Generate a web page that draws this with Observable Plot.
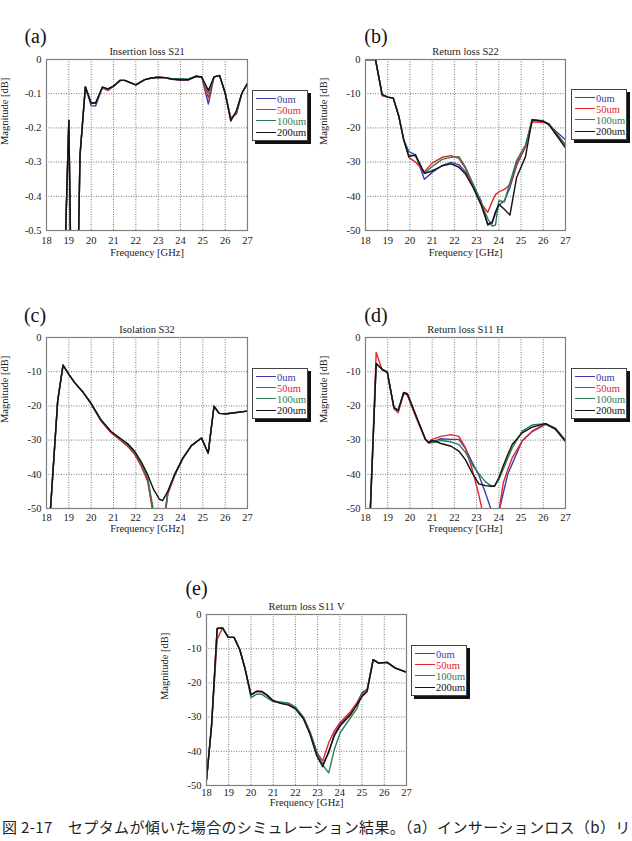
<!DOCTYPE html>
<html>
<head>
<meta charset="utf-8">
<script src="https://cdn.jsdelivr.net/npm/d3@7"></script>
<script src="https://cdn.jsdelivr.net/npm/@observablehq/plot@0.6"></script>
<style>
  html, body { margin: 0; padding: 0; background: #fff; overflow: hidden; }
  #page { position: relative; width: 632px; height: 841px; overflow: hidden; }
  .panel { position: absolute; }
  svg.panel text { font-family: "Liberation Serif", "Times New Roman", serif !important; }
  .legend { position: absolute; width: 56px; height: 51px; box-sizing: border-box;
            border: 1px solid #444; background: #fff; box-shadow: 3px 3px 0 #111;
            font-family: "Liberation Serif", serif; font-size: 10.5px; }
  .legend .sw { position: absolute; left: 3px; width: 20px; height: 0; }
  .legend .lb { position: absolute; left: 24px; line-height: 11px; white-space: nowrap; }
  #caption { position: absolute; left: 2px; top: 818px; white-space: nowrap; letter-spacing: 0.35px;
             font-family: "Noto Sans CJK JP", sans-serif; font-size: 15px; line-height: 18px; color: #222; }
</style>
</head>
<body>
<div id="page"></div>
<script>
// Series (tilt of the septum) and their line colours
const series = ["0um", "50um", "100um", "200um"];
const colors = ["#3b3ba8", "#e3242b", "#2e7d52", "#111111"];

// Shared frequency ticks [GHz]
const freqTicks = [18, 19, 20, 21, 22, 23, 24, 25, 26, 27];
const dbTicks = [0, -10, -20, -30, -40, -50];
const lossTicks = [0, -0.1, -0.2, -0.3, -0.4, -0.5];

// (a) Insertion loss S21
const freqA = [18.86, 19.0, 19.07, 19.3, 19.44, 19.5, 19.74, 20.0, 20.2, 20.5, 20.75, 21.0, 21.3, 21.5, 22.0, 22.4, 22.7, 23.0, 23.3, 23.6, 24.0, 24.35, 24.7, 24.95, 25.25, 25.5, 25.75, 26.0, 26.25, 26.5, 26.75, 27.0];
const s21_0   = [-0.5, -0.178, -0.5, NaN, -0.5, -0.28, -0.080, -0.135, -0.136, -0.081, -0.086, -0.078, -0.061, -0.061, -0.074, -0.059, -0.054, -0.052, -0.053, -0.058, -0.061, -0.060, -0.049, -0.051, -0.130, -0.051, -0.047, -0.098, -0.172, -0.158, -0.098, -0.070];
const s21_50  = [-0.5, -0.178, -0.5, NaN, -0.5, -0.28, -0.080, -0.128, -0.128, -0.083, -0.091, -0.078, -0.061, -0.061, -0.074, -0.059, -0.054, -0.052, -0.053, -0.057, -0.059, -0.059, -0.049, -0.051, -0.112, -0.051, -0.047, -0.098, -0.170, -0.160, -0.098, -0.070];
const s21_100 = [-0.5, -0.178, -0.5, NaN, -0.5, -0.28, -0.080, -0.127, -0.127, -0.081, -0.088, -0.078, -0.061, -0.061, -0.074, -0.059, -0.054, -0.052, -0.053, -0.056, -0.056, -0.057, -0.049, -0.051, -0.098, -0.051, -0.047, -0.098, -0.176, -0.155, -0.098, -0.070];
const s21_200 = [-0.5, -0.178, -0.5, NaN, -0.5, -0.28, -0.080, -0.127, -0.127, -0.081, -0.086, -0.078, -0.061, -0.061, -0.074, -0.059, -0.054, -0.052, -0.053, -0.057, -0.059, -0.059, -0.049, -0.051, -0.090, -0.051, -0.047, -0.098, -0.180, -0.150, -0.098, -0.070];

// (b) Return loss S22 [dB]
const freqB = [18.0, 18.45, 18.75, 19.0, 19.25, 19.5, 19.72, 19.95, 20.25, 20.65, 21.0, 21.45, 21.85, 22.2, 22.5, 22.85, 23.2, 23.5, 23.7, 23.85, 24.0, 24.25, 24.5, 24.8, 25.2, 25.5, 26.0, 26.25, 27.0];
const s22_0   = [0, 0, -10.3, -11, -11.3, -16.6, -23.5, -26.9, -27.9, -35.0, -33.0, -31.0, -30.1, -30.8, -32.8, -36.8, -41.3, -48.4, -47.9, -45.0, -42.6, -41.3, -37.4, -31.0, -25.4, -17.6, -17.9, -19.1, -23.5];
const s22_50  = [0, 0, -10.6, -11, -11.3, -16.6, -23.5, -28.6, -30.0, -32.8, -30.3, -28.6, -28.1, -28.9, -31.8, -37.5, -42.0, -44.7, -41.5, -39.5, -38.7, -38.0, -36.5, -30.3, -25.5, -18.2, -18.4, -18.8, -25.0];
const s22_100 = [0, 0, -10.3, -11, -11.3, -16.6, -23.5, -27.9, -28.2, -33.3, -31.3, -29.2, -28.6, -28.4, -31.5, -36.5, -42.0, -46.5, -48.7, -48.4, -41.3, -41.6, -36.0, -29.5, -25.0, -17.6, -18.1, -18.8, -25.0];
const s22_200 = [0, 0, -10.3, -11, -11.3, -16.6, -23.5, -28.4, -27.9, -33.3, -32.6, -31.1, -30.5, -31.5, -33.5, -37.5, -42.5, -48.2, -47.5, -44.5, -42.3, -43.8, -45.5, -34.5, -28.4, -17.6, -18.1, -19.0, -25.8];

// (c) Isolation S32 [dB]
const freqC = [18.18, 18.5, 18.74, 19.0, 19.26, 19.6, 19.98, 20.43, 20.88, 21.33, 21.63, 21.93, 22.23, 22.53, 22.8, 23.06, 23.2, 23.43, 23.73, 24.11, 24.49, 24.94, 25.24, 25.5, 25.73, 26.08, 27.0];
const s32_0   = [-50, -18.6, -8.1, -10.8, -13.2, -15.7, -19.2, -24.2, -27.7, -30.0, -31.6, -33.8, -37.2, -41.6, -52.0, -61, -57, -45.5, -40.4, -35.3, -31.6, -29.4, -33.8, -20.1, -22.2, -22.3, -21.5];
const s32_50  = [-50, -18.6, -8.1, -10.8, -13.2, -15.7, -19.3, -24.3, -27.8, -30.2, -31.8, -34.0, -37.5, -42.0, -52.5, -62, -58, -45.8, -40.5, -35.4, -31.6, -29.4, -33.8, -20.1, -22.2, -22.3, -21.5];
const s32_100 = [-50, -18.6, -8.1, -10.8, -13.2, -15.7, -19.0, -24.0, -27.5, -29.8, -31.3, -33.5, -36.8, -41.0, -51.0, -60, -56, -45.2, -40.2, -35.2, -31.6, -29.4, -33.8, -20.1, -22.2, -22.3, -21.5];
const s32_200 = [-50, -18.6, -8.1, -10.8, -13.2, -15.7, -19.1, -24.0, -27.4, -29.6, -31.0, -33.1, -36.2, -40.1, -44.5, -47.3, -47.7, -45.0, -40.1, -35.2, -31.6, -29.4, -33.8, -20.1, -22.2, -22.3, -21.5];

// (d) Return loss S11, H polarisation [dB]
const freqD = [18.22, 18.48, 18.75, 18.98, 19.28, 19.47, 19.72, 19.88, 20.25, 20.7, 20.85, 21.0, 21.4, 21.85, 22.2, 22.5, 22.8, 23.1, 23.4, 23.65, 23.8, 24.0, 24.2, 24.4, 24.6, 25.05, 25.5, 26.1, 26.55, 27.0];
const s11h_0   = [-50, -7.6, -9.3, -10.1, -20.5, -21.3, -16.1, -16.4, -22.5, -29.8, -30.8, -30.5, -29.6, -29.8, -29.8, -32.5, -36.5, -40.2, -45.5, -50.3, -54, -51, -45.5, -40.0, -37.0, -30.2, -27.5, -25.4, -26.6, -30.1];
const s11h_50  = [-50, -4.4, -9.5, -10.3, -20.8, -22.0, -16.5, -16.8, -23.0, -30.0, -30.5, -29.8, -28.9, -28.4, -28.9, -32.3, -38.5, -46.0, -55, -60, -60, -51, -42.5, -38.7, -35.2, -30.3, -27.4, -25.2, -26.9, -30.5];
const s11h_100 = [-50, -7.6, -9.3, -10.1, -20.5, -21.3, -16.1, -16.4, -22.5, -29.8, -30.8, -30.8, -30.1, -30.5, -31.3, -33.6, -37.2, -39.8, -42.2, -43.3, -43.5, -41.5, -38.5, -35.3, -32.3, -27.4, -25.6, -25.2, -26.5, -30.1];
const s11h_200 = [-50, -7.6, -9.3, -10.1, -20.5, -21.3, -16.1, -16.4, -22.5, -29.8, -30.8, -30.1, -31.0, -31.8, -33.2, -35.8, -39.6, -42.8, -43.3, -43.5, -43.5, -41.0, -37.5, -34.3, -31.3, -27.9, -26.2, -25.2, -26.8, -30.3];

// (e) Return loss S11, V polarisation [dB]
const freqE = [18.0, 18.23, 18.48, 18.72, 18.98, 19.24, 19.5, 19.73, 20.0, 20.26, 20.48, 20.71, 21.0, 21.32, 21.69, 22.0, 22.36, 22.66, 22.96, 23.23, 23.5, 23.75, 24.02, 24.47, 24.77, 25.0, 25.23, 25.5, 25.75, 26.13, 26.5, 27.0];
const s11v_0   = [-48.4, -32.3, -4.1, -3.9, -6.7, -6.7, -10.3, -15.7, -23.5, -22.5, -22.5, -23.5, -25.2, -25.8, -26.0, -27.2, -30.2, -34.8, -41.0, -43.8, -40.5, -35.0, -32.0, -29.0, -26.0, -22.8, -22.0, -13.2, -14.2, -14.0, -15.7, -16.9];
const s11v_50  = [-48.4, -32.3, -7.3, -3.9, -6.7, -6.7, -10.3, -15.7, -23.5, -22.4, -22.6, -23.5, -25.2, -25.8, -26.3, -27.3, -30.0, -34.3, -40.3, -42.8, -37.5, -34.0, -31.5, -28.5, -25.8, -23.5, -22.3, -13.2, -14.2, -14.0, -15.7, -16.9];
const s11v_100 = [-48.4, -32.3, -4.1, -3.9, -6.7, -6.7, -10.3, -15.7, -24.3, -23.3, -23.3, -24.3, -25.5, -25.6, -25.9, -27.0, -30.0, -34.5, -40.0, -44.0, -46.3, -39.5, -34.5, -30.3, -27.5, -23.0, -21.8, -13.2, -14.2, -14.0, -15.7, -16.9];
const s11v_200 = [-48.4, -32.3, -4.1, -3.9, -6.7, -6.7, -10.3, -15.7, -23.5, -22.5, -22.5, -23.5, -25.2, -26.0, -26.5, -27.6, -30.5, -35.0, -41.3, -44.5, -40.0, -35.5, -32.5, -29.4, -26.4, -24.0, -22.5, -13.2, -14.2, -14.0, -15.7, -16.9];

// Long-format rows for one panel
function rows(freq, curves) {
  return curves.flatMap((vals, k) => freq.map((f, i) => ({f, v: vals[i], s: series[k]})));
}

const font = "'Liberation Serif', 'Times New Roman', serif";

function panel(cfg) {
  const yTicks = cfg.yTicks;
  const svg = Plot.plot({
    width: cfg.width,
    height: cfg.height,
    marginLeft: cfg.ml, marginRight: cfg.mr, marginTop: cfg.mt, marginBottom: cfg.mb,
    style: {fontFamily: font, fontSize: "10.5px", color: "#222", background: "transparent", overflow: "visible"},
    x: {domain: [18, 27], ticks: freqTicks, tickSize: 0, tickPadding: cfg.xPad, tickFormat: d => String(d), label: null},
    y: {domain: [yTicks[yTicks.length - 1], 0], ticks: yTicks, tickSize: 0, tickPadding: 5, tickFormat: cfg.yFormat, label: null},
    color: {domain: series, range: colors},
    marks: [
      Plot.ruleX(freqTicks.slice(1, -1), {stroke: "#555", strokeWidth: 0.8, strokeDasharray: "1,1.5"}),
      Plot.ruleY(yTicks.slice(1, -1), {stroke: "#555", strokeWidth: 0.8, strokeDasharray: "1,1.5"}),
      Plot.line(rows(cfg.freq, cfg.curves), {x: "f", y: "v", z: "s", stroke: "s", strokeWidth: 1.4, clip: true}),
      Plot.frame({stroke: "#808080", strokeWidth: 1.2}),
      Plot.text([cfg.title], {text: d => d, frameAnchor: "top", dy: -12, fontSize: 10.5, fill: "#222"}),
      Plot.text(["Frequency [GHz]"], {text: d => d, frameAnchor: "bottom", dy: cfg.xLabelDy, fontSize: 10.5, fill: "#222"}),
      Plot.text(["Magnitude [dB]"], {text: d => d, frameAnchor: "left", dx: -42, rotate: -90, fontSize: 10.5, fill: "#222"}),
      Plot.text([cfg.tag], {text: d => d, frameAnchor: "top-left", dx: cfg.tagDx, dy: cfg.tagDy, fontSize: 20, textAnchor: "middle", fill: "#111"})
    ]
  });
  svg.classList.add("panel");
  svg.style.left = cfg.left + "px";
  svg.style.top = cfg.top + "px";
  return svg;
}

function legend(left, top) {
  const box = document.createElement("div");
  box.className = "legend";
  box.style.left = left + "px";
  box.style.top = top + "px";
  series.forEach((s, i) => {
    const cy = 8 + i * 11.2;
    const sw = document.createElement("div");
    sw.className = "sw";
    sw.style.top = (cy - 1) + "px";
    sw.style.borderTop = `1.8px solid ${colors[i]}`;
    const lb = document.createElement("div");
    lb.className = "lb";
    lb.style.top = (cy - 5.5) + "px";
    lb.style.color = colors[i];
    lb.textContent = s;
    box.append(sw, lb);
  });
  return box;
}

const page = document.getElementById("page");
const lossFormat = d => d === 0 ? "0" : d.toFixed(1);
const dbFormat = d => String(d);

page.append(
  panel({left: 0, top: 10, width: 250, height: 255, ml: 46, mr: 3, mt: 49, mb: 35, xPad: 6, xLabelDy: 25,
         yTicks: lossTicks, yFormat: lossFormat, title: "Insertion loss S21", tag: "(a)", tagDx: -11, tagDy: -31,
         freq: freqA, curves: [s21_0, s21_50, s21_100, s21_200]}),
  panel({left: 316, top: 10, width: 252, height: 255, ml: 49, mr: 3, mt: 49, mb: 35, xPad: 6, xLabelDy: 25,
         yTicks: dbTicks, yFormat: dbFormat, title: "Return loss S22", tag: "(b)", tagDx: 10.5, tagDy: -31,
         freq: freqB, curves: [s22_0, s22_50, s22_100, s22_200]}),
  panel({left: 0, top: 290, width: 250, height: 250, ml: 46, mr: 3, mt: 47, mb: 32, xPad: 5, xLabelDy: 23,
         yTicks: dbTicks, yFormat: dbFormat, title: "Isolation S32", tag: "(c)", tagDx: -11.5, tagDy: -30,
         freq: freqC, curves: [s32_0, s32_50, s32_100, s32_200]}),
  panel({left: 316, top: 290, width: 252, height: 250, ml: 49, mr: 3, mt: 47, mb: 32, xPad: 5, xLabelDy: 23,
         yTicks: dbTicks, yFormat: dbFormat, title: "Return loss S11 H", tag: "(d)", tagDx: 10.5, tagDy: -30,
         freq: freqD, curves: [s11h_0, s11h_50, s11h_100, s11h_200]}),
  panel({left: 150, top: 570, width: 260, height: 241, ml: 56, mr: 4, mt: 44, mb: 26, xPad: 3, xLabelDy: 20.5,
         yTicks: dbTicks, yFormat: dbFormat, title: "Return loss S11 V", tag: "(e)", tagDx: -10, tagDy: -34,
         freq: freqE, curves: [s11v_0, s11v_50, s11v_100, s11v_200]}),
  legend(252, 90),
  legend(571, 89),
  legend(252, 368),
  legend(571, 368),
  legend(411, 645)
);

const caption = document.createElement("div");
caption.id = "caption";
caption.textContent = "図 2-17　セプタムが傾いた場合のシミュレーション結果。（a）インサーションロス（b）リ";
page.append(caption);
</script>
</body>
</html>
